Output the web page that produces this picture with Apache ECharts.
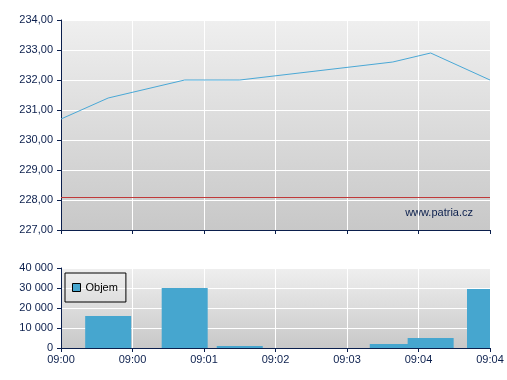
<!DOCTYPE html>
<html>
<head>
<meta charset="utf-8">
<script src="https://cdn.jsdelivr.net/npm/echarts@6/dist/echarts.min.js"></script>
<style>html,body{margin:0;padding:0;background:#fff}#c{width:507px;height:380px}</style>
</head>
<body>
<div id="c"></div>
<script>
// time position of each trade, in axis tick units (0 = first tick, 6 = last tick)
var timePos = [0, 0.66, 1.73, 2.5, 4.64, 5.17, 6];
var price = [230.7, 231.4, 232.0, 232.0, 232.6, 232.9, 232.0];
var volume = [0, 16000, 30000, 1000, 2000, 5000, 29500];
var refPrice = 228.1;
var tickLabels = ['09:00', '09:00', '09:01', '09:02', '09:03', '09:04', '09:04'];
var seriesName = 'Objem';
var watermark = 'www.patria.cz';

var navy = '#0b1f4d';
var barColor = '#46a6cf';
var font = 'Liberation Sans, Arial, sans-serif';
var bg = {type: 'linear', x: 0, y: 0, x2: 0, y2: 1, colorStops: [{offset: 0, color: '#efefef'}, {offset: 1, color: '#c8c8c8'}]};

function fmtPrice(v) { return v.toFixed(2).replace('.', ','); }
function fmtVol(v) { return String(Math.round(v)).replace(/\B(?=(\d{3})+(?!\d))/g, ' '); }

var chart = echarts.init(document.getElementById('c'), null, {renderer: 'canvas'});
var xCommon = {
  type: 'value', min: 0, max: 6, interval: 1,
  axisLine: {show: true, onZero: false, lineStyle: {color: navy, width: 1}},
  axisTick: {show: true, length: 4, lineStyle: {color: navy}},
  splitLine: {show: true, lineStyle: {color: '#ffffff', width: 1}}
};
var BAR_W = 46;
function renderBar(params, api) {
  var x = api.value(0), v = api.value(1);
  if (!v) return null;
  var top = api.coord([x, v]);
  var base = api.coord([x, 0]);
  var rect = echarts.graphic.clipRectByRect(
    {x: top[0] - BAR_W / 2, y: top[1], width: BAR_W, height: base[1] - top[1]},
    {x: params.coordSys.x, y: params.coordSys.y, width: params.coordSys.width, height: params.coordSys.height}
  );
  return rect && {type: 'rect', shape: rect, style: {fill: barColor}};
}
chart.setOption({
  animation: false,
  backgroundColor: '#ffffff',
  textStyle: {fontFamily: font},
  grid: [
    {left: 61, top: 20, width: 429, height: 210, show: true, backgroundColor: bg, borderWidth: 0},
    {left: 61, top: 268, width: 429, height: 80, show: true, backgroundColor: bg, borderWidth: 0}
  ],
  legend: {
    data: [seriesName], left: 65, top: 273, orient: 'vertical',
    padding: [9, 8, 9, 7], borderColor: '#000', borderWidth: 1, backgroundColor: 'rgba(0,0,0,0)',
    itemWidth: 8, itemHeight: 8, icon: 'rect',
    itemStyle: {color: barColor, borderColor: '#000', borderWidth: 1},
    textStyle: {color: '#000', fontSize: 11, fontFamily: font}
  },
  xAxis: [
    Object.assign({gridIndex: 0, axisLabel: {show: false}}, xCommon),
    Object.assign({gridIndex: 1, axisLabel: {show: true, color: navy, fontSize: 11, fontFamily: font, margin: 6,
      formatter: function (v) { return tickLabels[Math.round(v)]; }}}, xCommon)
  ],
  yAxis: [
    {gridIndex: 0, type: 'value', min: 227, max: 234, interval: 1,
      axisLine: {show: true, lineStyle: {color: navy}},
      axisTick: {show: true, length: 4, lineStyle: {color: navy}},
      axisLabel: {color: navy, fontSize: 11, fontFamily: font, margin: 8, formatter: fmtPrice},
      splitLine: {show: true, lineStyle: {color: '#ffffff', width: 1}}},
    {gridIndex: 1, type: 'value', min: 0, max: 40000, interval: 10000,
      axisLine: {show: true, lineStyle: {color: navy}},
      axisTick: {show: true, length: 4, lineStyle: {color: navy}},
      axisLabel: {color: navy, fontSize: 11, fontFamily: font, margin: 8, formatter: fmtVol},
      splitLine: {show: true, lineStyle: {color: '#ffffff', width: 1}}}
  ],
  series: [
    {type: 'line', xAxisIndex: 0, yAxisIndex: 0, name: 'Cena',
      data: timePos.map(function (t, i) { return [t, price[i]]; }),
      showSymbol: false, symbol: 'none', lineStyle: {color: '#4aa8d6', width: 1}, itemStyle: {color: '#4aa8d6'},
      markLine: {silent: true, symbol: 'none', label: {show: false},
        lineStyle: {color: '#c03a3a', width: 1, type: 'solid'}, data: [{yAxis: refPrice}]}},
    {type: 'custom', xAxisIndex: 1, yAxisIndex: 1, name: seriesName,
      data: timePos.map(function (t, i) { return [t, volume[i]]; }),
      renderItem: renderBar, itemStyle: {color: barColor}, encode: {x: 0, y: 1}}
  ],
  graphic: [
    {type: 'text', right: 34, top: 207, style: {text: watermark, fill: navy, font: '11px ' + font}}
  ]
});
</script>
</body>
</html>
